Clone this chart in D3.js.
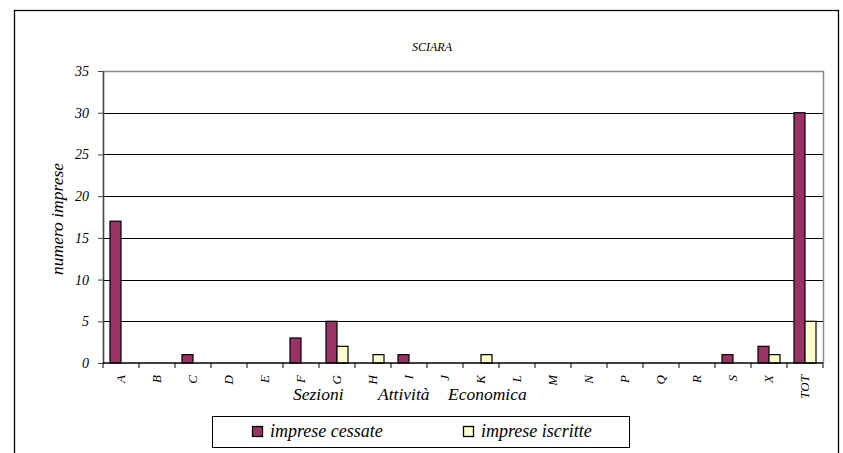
<!DOCTYPE html>
<html>
<head>
<meta charset="utf-8">
<script src="https://cdn.jsdelivr.net/npm/d3@7"></script>
<style>
  body { margin: 0; background: #fff; }
</style>
</head>
<body>
<div id="chart"></div>
<script>
// Data
var categories = ["A", "B", "C", "D", "E", "F", "G", "H", "I", "J", "K", "L", "M", "N", "P", "Q", "R", "S", "X", "TOT"];
var cessate = [17, 0, 1, 0, 0, 3, 5, 0, 1, 0, 0, 0, 0, 0, 0, 0, 0, 1, 2, 30];
var iscritte = [0, 0, 0, 0, 0, 0, 2, 1, 0, 0, 1, 0, 0, 0, 0, 0, 0, 0, 1, 5];
var seriesNames = ["imprese cessate", "imprese iscritte"];
var seriesColors = ["#993366", "#FFFFCC"];
var yTicks = [0, 5, 10, 15, 20, 25, 30, 35];
var xTitleWords = ["Sezioni", "Attività", "Economica"];

var FONT = "Liberation Serif";

var W = 843, H = 453;
var margin = { top: 71, right: 20, bottom: 90, left: 103 };
var plotW = 823 - margin.left;
var plotH = 363 - margin.top;

var svg = d3.select("#chart").append("svg")
  .attr("width", W)
  .attr("height", H);

function serif(sel, size) {
  return sel
    .style("font-family", "'" + FONT + "'")
    .style("font-style", "italic")
    .style("font-size", size + "px")
    .attr("fill", "#000");
}

// Outer chart frame (runs off the bottom of the picture).
svg.append("rect")
  .attr("x", 14.5).attr("y", 10.5)
  .attr("width", 824).attr("height", 460)
  .attr("fill", "none")
  .attr("stroke", "#000")
  .attr("stroke-width", 1.3);

svg.append("text")
  .attr("x", 432).attr("y", 51)
  .attr("text-anchor", "middle")
  .call(serif, 12)
  .text("SCIARA");

var g = svg.append("g")
  .attr("transform", "translate(" + margin.left + "," + margin.top + ")");

var x = d3.scaleBand().domain(categories).range([0, plotW]).padding(0);
var xs = d3.scaleBand().domain(seriesNames).range([7, x.bandwidth() - 7]).padding(0);
var y = d3.scaleLinear().domain([0, 35]).range([plotH, 0]);

// Gridlines
g.selectAll(".grid")
  .data(yTicks.filter(function(d) { return d > 0 && d < 35; }))
  .enter().append("line")
  .attr("x1", 0).attr("x2", plotW)
  .attr("y1", function(d) { return Math.round(y(d)) + 0.5; })
  .attr("y2", function(d) { return Math.round(y(d)) + 0.5; })
  .attr("stroke", "#000");

// Plot area border (top and right grey)
g.append("path")
  .attr("d", "M0,0.5H" + (plotW + 0.5) + "V" + plotH)
  .attr("fill", "none")
  .attr("stroke", "#888")
  .attr("stroke-width", 1.5);

// Bars
var rows = categories.map(function(c, i) {
  return { cat: c, values: [cessate[i], iscritte[i]] };
});

var groups = g.selectAll(".cat")
  .data(rows)
  .enter().append("g")
  .attr("transform", function(d) { return "translate(" + x(d.cat) + ",0)"; });

groups.selectAll("rect")
  .data(function(d) {
    return d.values.map(function(v, j) { return { name: seriesNames[j], value: v, color: seriesColors[j] }; })
      .filter(function(e) { return e.value > 0; });
  })
  .enter().append("rect")
  .attr("x", function(d) { return xs(d.name); })
  .attr("y", function(d) { return y(d.value); })
  .attr("width", xs.bandwidth())
  .attr("height", function(d) { return plotH - y(d.value); })
  .attr("fill", function(d) { return d.color; })
  .attr("stroke", "#000")
  .attr("stroke-width", 1.2);

// Y axis
var yAxis = g.append("g")
  .call(d3.axisLeft(y).tickValues(yTicks).tickSize(5).tickSizeOuter(0))
  .attr("font-family", null)
  .attr("font-size", null);
yAxis.select(".domain").attr("stroke", "#444").attr("stroke-width", 1.6);
yAxis.selectAll(".tick line").attr("stroke", "#444");
yAxis.selectAll(".tick text")
  .attr("x", -14)
  .call(serif, 14);

// X axis: ticks at category boundaries
var xAxisG = g.append("g").attr("transform", "translate(0," + plotH + ")");
xAxisG.append("line")
  .attr("x1", 0).attr("x2", plotW)
  .attr("stroke", "#000").attr("stroke-width", 1.5);
xAxisG.selectAll(".bt")
  .data(categories.concat([null]))
  .enter().append("line")
  .attr("x1", function(d, i) { return i * x.step(); })
  .attr("x2", function(d, i) { return i * x.step(); })
  .attr("y1", 0).attr("y2", 5)
  .attr("stroke", "#000");
xAxisG.selectAll(".lbl")
  .data(categories)
  .enter().append("text")
  .attr("transform", function(d) {
    return "translate(" + (x(d) + x.bandwidth() / 2 + 4) + ",12) rotate(-90)";
  })
  .attr("text-anchor", "end")
  .call(serif, 13)
  .text(function(d) { return d; });

// Axis titles
var xTitle = svg.append("text")
  .attr("y", 400)
  .call(serif, 17.5);
var xTitleX = [293, 378, 448];
xTitle.selectAll("tspan")
  .data(xTitleWords)
  .enter().append("tspan")
  .attr("x", function(d, i) { return xTitleX[i]; })
  .text(function(d) { return d; });

svg.append("text")
  .attr("transform", "translate(63,219) rotate(-90)")
  .attr("text-anchor", "middle")
  .call(serif, 17.5)
  .text("numero imprese");

// Legend
var legend = svg.append("g");
legend.append("rect")
  .attr("x", 212.5).attr("y", 416.5)
  .attr("width", 417).attr("height", 31)
  .attr("fill", "#fff")
  .attr("stroke", "#000");
var legendX = [252, 463];
seriesNames.forEach(function(name, i) {
  legend.append("rect")
    .attr("x", legendX[i] + 0.5).attr("y", 426.5)
    .attr("width", 10).attr("height", 10)
    .attr("fill", seriesColors[i])
    .attr("stroke", "#000")
    .attr("stroke-width", 1.3);
  legend.append("text")
    .attr("x", legendX[i] + 18).attr("y", 437)
    .call(serif, 18)
    .text(name);
});
</script>
</body>
</html>
